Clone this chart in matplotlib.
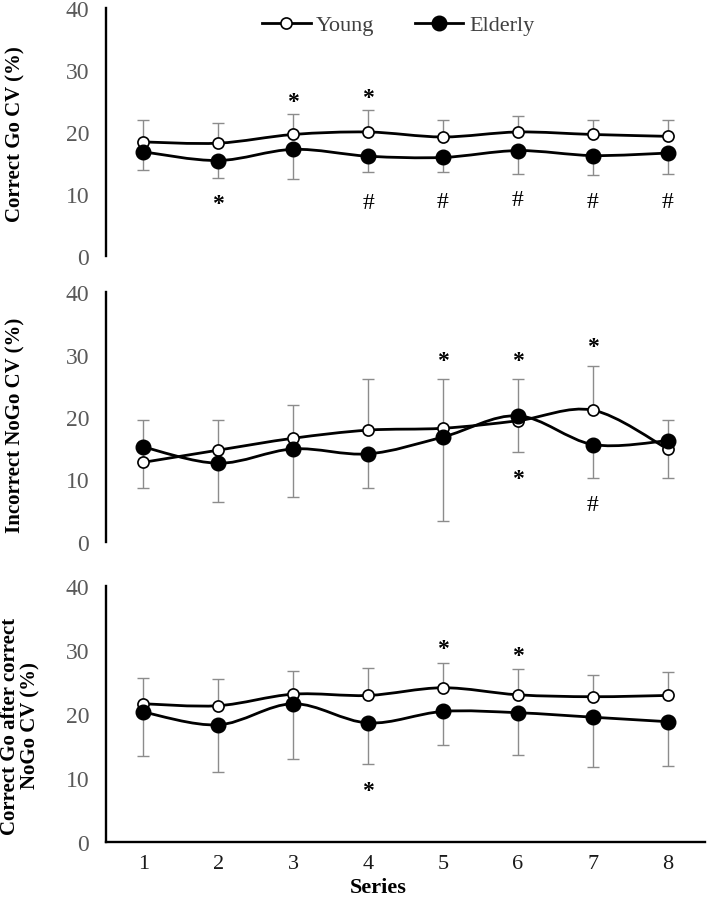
import matplotlib
matplotlib.use("Agg")
import matplotlib.pyplot as plt
from matplotlib.path import Path
from matplotlib.patches import PathPatch
from matplotlib.lines import Line2D

plt.rcParams['font.family'] = ['Liberation Serif', 'DejaVu Serif']

series = [1, 2, 3, 4, 5, 6, 7, 8]
yticks = [0, 10, 20, 30, 40]

# Panel 1: Correct Go CV
young1 = [18.4, 18.2, 19.6, 20.0, 19.2, 20.0, 19.6, 19.3]
young1_err = [3.5, 3.3, 3.3, 3.5, 2.7, 2.6, 2.3, 2.6]
elder1 = [16.8, 15.4, 17.2, 16.1, 15.9, 17.0, 16.2, 16.6]
elder1_err = [3.0, 2.8, 4.8, 2.6, 2.4, 3.8, 3.2, 3.4]
ann1 = [(3, 25.0, '*'), (4, 25.6, '*'), (2, 8.4, '*'),
        (4, 8.6, '#'), (5, 8.8, '#'), (6, 9.1, '#'), (7, 8.8, '#'), (8, 8.8, '#')]

# Panel 2: Incorrect NoGo CV
young2 = [12.75, 14.7, 16.6, 17.9, 18.2, 19.4, 21.1, 14.9]
young2_err = [6.75, 4.8, 5.4, 8.2, 7.9, 6.7, 7.1, 4.6]
elder2 = [15.2, 12.6, 14.9, 14.1, 16.8, 20.2, 15.6, 16.2]
elder2_err = [6.6, 6.15, 7.75, 5.5, 13.4, 5.75, 5.4, 6.0]
ann2 = [(5, 29.0, '*'), (6, 29.0, '*'), (7, 31.3, '*'), (6, 10.1, '*'), (7, 6.0, '#')]

# Panel 3: Correct Go after correct NoGo CV
young3 = [21.6, 21.3, 23.1, 22.9, 24.1, 23.0, 22.7, 22.9]
young3_err = [4.1, 4.2, 3.6, 4.3, 3.8, 4.1, 3.4, 3.6]
elder3 = [20.3, 18.3, 21.6, 18.6, 20.4, 20.2, 19.5, 18.8]
elder3_err = [6.9, 7.4, 8.7, 6.4, 5.2, 6.6, 7.8, 6.9]
ann3 = [(5, 30.3, '*'), (6, 29.2, '*'), (4, 8.0, '*')]

ylabels = ["Correct Go CV (%)", "Incorrect NoGo CV (%)", "Correct Go after correct\nNoGo CV (%)"]

panels = [
    (young1, young1_err, elder1, elder1_err, ann1),
    (young2, young2_err, elder2, elder2_err, ann2),
    (young3, young3_err, elder3, elder3_err, ann3),
]

W, H = 707, 903
fig = plt.figure(figsize=(W / 100, H / 100), dpi=100)

# axes boxes in pixels (top, bottom)
boxes = [(9, 257), (293, 543), (587, 843)]
label_centers = [(15, 134), (15, 425), (20, 726)]
left_px, right_px = 106, 705


def smooth_path(xs, ys):
    pts = list(zip(xs, ys))
    n = len(pts)
    verts = [pts[0]]
    codes = [Path.MOVETO]
    for i in range(n - 1):
        p0 = pts[i - 1] if i > 0 else pts[i]
        p1 = pts[i]
        p2 = pts[i + 1]
        p3 = pts[i + 2] if i + 2 < n else pts[i + 1]
        c1 = (p1[0] + (p2[0] - p0[0]) / 6.0, p1[1] + (p2[1] - p0[1]) / 6.0)
        c2 = (p2[0] - (p3[0] - p1[0]) / 6.0, p2[1] - (p3[1] - p1[1]) / 6.0)
        verts += [c1, c2, p2]
        codes += [Path.CURVE4] * 3
    return Path(verts, codes)


err_color = '#8c8c8c'
tick_gray = '#595959'

for k, (yv, ye, ev, ee, ann) in enumerate(panels):
    top, bot = boxes[k]
    ax = fig.add_axes([left_px / W, 1 - bot / H, (right_px - left_px) / W, (bot - top) / H])
    ax.set_xlim(0.5, 8.5)
    ax.set_ylim(0, 40)
    for s in ['top', 'right']:
        ax.spines[s].set_visible(False)
    ax.spines['left'].set_linewidth(1.7)
    if k < 2:
        ax.spines['bottom'].set_visible(False)
        ax.set_xticks([])
    else:
        ax.spines['bottom'].set_linewidth(1.7)
        ax.set_xticks(series)
        ax.set_xticklabels([str(s) for s in series], fontsize=16, color='#1a1a1a')
    ax.set_yticks(yticks)
    ax.set_yticklabels([str(t) for t in yticks], fontsize=17, color=tick_gray)
    ax.tick_params(axis='y', length=0, pad=12)
    ax.tick_params(axis='x', length=0, pad=9)

    # error bars (one-sided)
    ax.errorbar(series, yv, yerr=[[0] * 8, ye], fmt='none', ecolor=err_color,
                elinewidth=1.0, capsize=4, capthick=1.0, zorder=2)
    ax.errorbar(series, ev, yerr=[ee, [0] * 8], fmt='none', ecolor=err_color,
                elinewidth=1.0, capsize=4, capthick=1.0, zorder=2)

    # smoothed lines
    for vals in (yv, ev):
        ax.add_patch(PathPatch(smooth_path(series, vals), fill=False,
                               edgecolor='black', lw=2.0, zorder=3))
    ax.plot(series, yv, linestyle='none', marker='o', ms=8, mfc='white',
            mec='black', mew=1.2, zorder=4)
    ax.plot(series, ev, linestyle='none', marker='o', ms=10.5, mfc='black',
            mec='black', zorder=4)

    for (x, y, t) in ann:
        if t == '*':
            ax.text(x, y, t, ha='center', va='center', fontsize=17, fontweight='bold')
        else:
            ax.text(x, y, t, ha='center', va='center', fontsize=17)

    # y labels
    lx, ly = label_centers[k]
    fig.text(lx / W, 1 - ly / H, ylabels[k], rotation=90, ha='center', va='center',
             fontsize=15, fontweight='bold', linespacing=1.05, multialignment='center')

    if k == 0:
        handles = [
            Line2D([], [], color='black', lw=2.0, marker='o', ms=8, mfc='white', mec='black', mew=1.2),
            Line2D([], [], color='black', lw=2.0, marker='o', ms=10.5, mfc='black', mec='black'),
        ]
        leg = ax.legend(handles, ['Young', 'Elderly'], loc='center',
                        bbox_to_anchor=(398 / W, 1 - 26 / H), bbox_transform=fig.transFigure,
                        ncol=2, frameon=False, fontsize=16, handlelength=2.2,
                        handletextpad=0.25, columnspacing=1.8)
        for t in leg.get_texts():
            t.set_color('#404040')

fig.text(378 / W, 1 - 888 / H, 'Series', ha='center', va='center', fontsize=16, fontweight='bold')

fig.savefig('out.png', dpi=100)
